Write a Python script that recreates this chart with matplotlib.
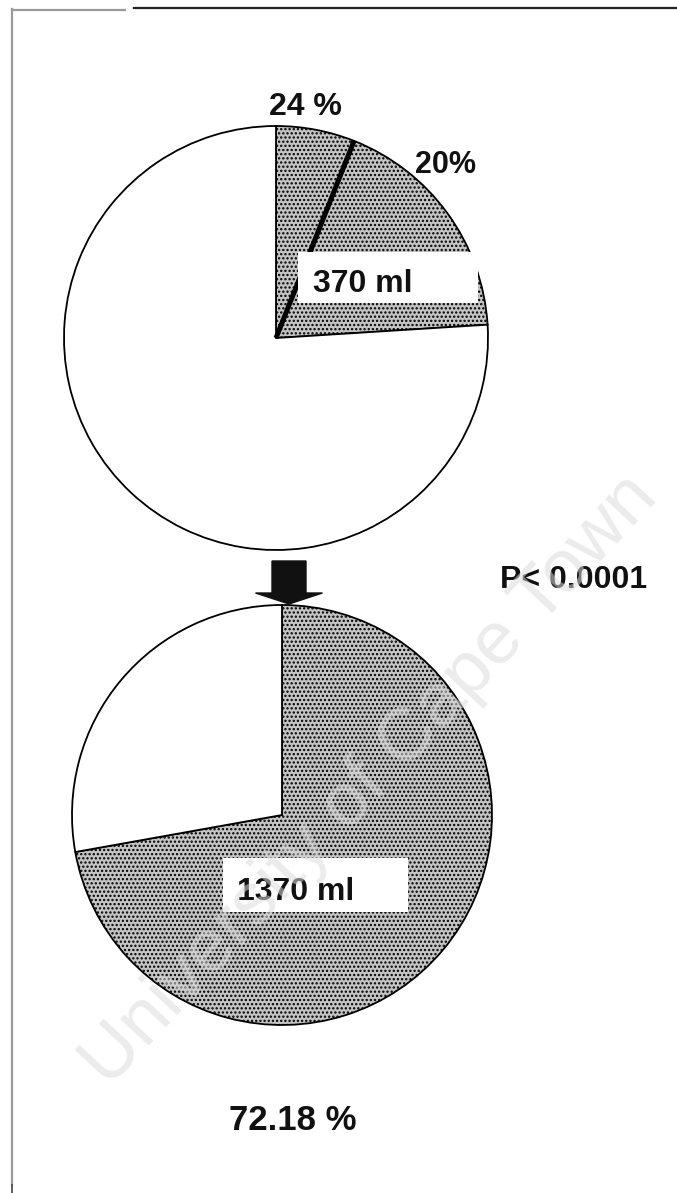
import matplotlib
matplotlib.use('Agg')
import matplotlib.pyplot as plt
from matplotlib.patches import Rectangle
import numpy as np

# ---------------- data ----------------
top_values = [6, 18, 76]          # divided shaded part, rest of shaded part, unshaded
top_shaded = [True, True, False]
top_pct_labels = ['24 %', '20%']
top_volume = '370 ml'

bottom_values = [72.18, 27.82]
bottom_shaded = [True, False]
bottom_pct_label = '72.18 %'
bottom_volume = '1370 ml'

p_value_text = 'P< 0.0001'
watermark = 'University of Cape Town'

# ---------------- layout ----------------
W, H = 677, 1193
def Y(y):
    return H - y

plt.rcParams['hatch.color'] = '#1a1a1a'
plt.rcParams['hatch.linewidth'] = 1.1
SHADE = '#c4c4c4'
normal = ['Liberation Sans', 'DejaVu Sans']

fig = plt.figure(figsize=(W / 100, H / 100), dpi=100)
ax = fig.add_axes([0, 0, 1, 1])

# top pie
tc = (276, Y(338)); tr = 212
ax.pie(top_values, colors=[SHADE if s else 'white' for s in top_shaded],
       hatch=['....' if s else '' for s in top_shaded],
       startangle=90, counterclock=False, center=tc, radius=tr,
       wedgeprops=dict(edgecolor='black', linewidth=1.3))
theta = np.deg2rad(90 - 360 * top_values[0] / sum(top_values))
ax.plot([tc[0], tc[0] + tr * np.cos(theta)], [tc[1], tc[1] + tr * np.sin(theta)],
        color='black', lw=3.6, solid_capstyle='butt', zorder=5)

# bottom pie
bc = (282, Y(815)); br = 210
ax.pie(bottom_values, colors=[SHADE if s else 'white' for s in bottom_shaded],
       hatch=['....' if s else '' for s in bottom_shaded],
       startangle=90, counterclock=False, center=bc, radius=br,
       wedgeprops=dict(edgecolor='black', linewidth=1.3))

# arrow between pies
ax.arrow(289, Y(561), 0, -(604 - 561), width=34, head_width=67, head_length=11,
         length_includes_head=True, color='#111111', zorder=6)

# value boxes
ax.add_patch(Rectangle((298, Y(303)), 180, 51, facecolor='white', edgecolor='none', zorder=6))
ax.text(313, Y(292), top_volume, ha='left', va='baseline', fontsize=23,
        fontweight='bold', family=normal, color='#111111', zorder=7)
ax.add_patch(Rectangle((223, Y(912)), 185, 54, facecolor='white', edgecolor='none', zorder=6))
ax.text(237, Y(900), bottom_volume, ha='left', va='baseline', fontsize=23,
        fontweight='bold', family=normal, color='#111111', zorder=7)

# labels
ax.text(305, Y(115), top_pct_labels[0], ha='center', va='baseline', fontsize=23,
        fontweight='bold', family=normal, color='#111111')
ax.text(446, Y(173), top_pct_labels[1], ha='center', va='baseline', fontsize=22,
        fontweight='bold', family=normal, color='#111111')
ax.text(574, Y(588), p_value_text, ha='center', va='baseline', fontsize=23,
        fontweight='bold', family=normal, color='#111111')
ax.text(293, Y(1130), bottom_pct_label, ha='center', va='baseline', fontsize=25,
        fontweight='bold', family=normal, color='#111111')

# watermark
ax.text(370, Y(780), watermark, rotation=47, fontsize=54, family=normal,
        color='#dcdcdc', alpha=0.55, ha='center', va='center', zorder=8)

# frame lines (scan border)
ax.plot([134, W], [Y(8), Y(8)], color='#222222', lw=1.6)
ax.plot([12, 125], [Y(9.5), Y(9.5)], color='#9a9a9a', lw=1.6)
ax.plot([12, 12], [Y(9), Y(1185)], color='#9a9a9a', lw=1.6)
ax.plot([12, 12], [Y(1185), Y(1193)], color='#444444', lw=1.2)

ax.set_xlim(0, W)
ax.set_ylim(0, H)
ax.set_aspect('equal')
ax.axis('off')
fig.savefig('out.png', dpi=100, facecolor='white')
